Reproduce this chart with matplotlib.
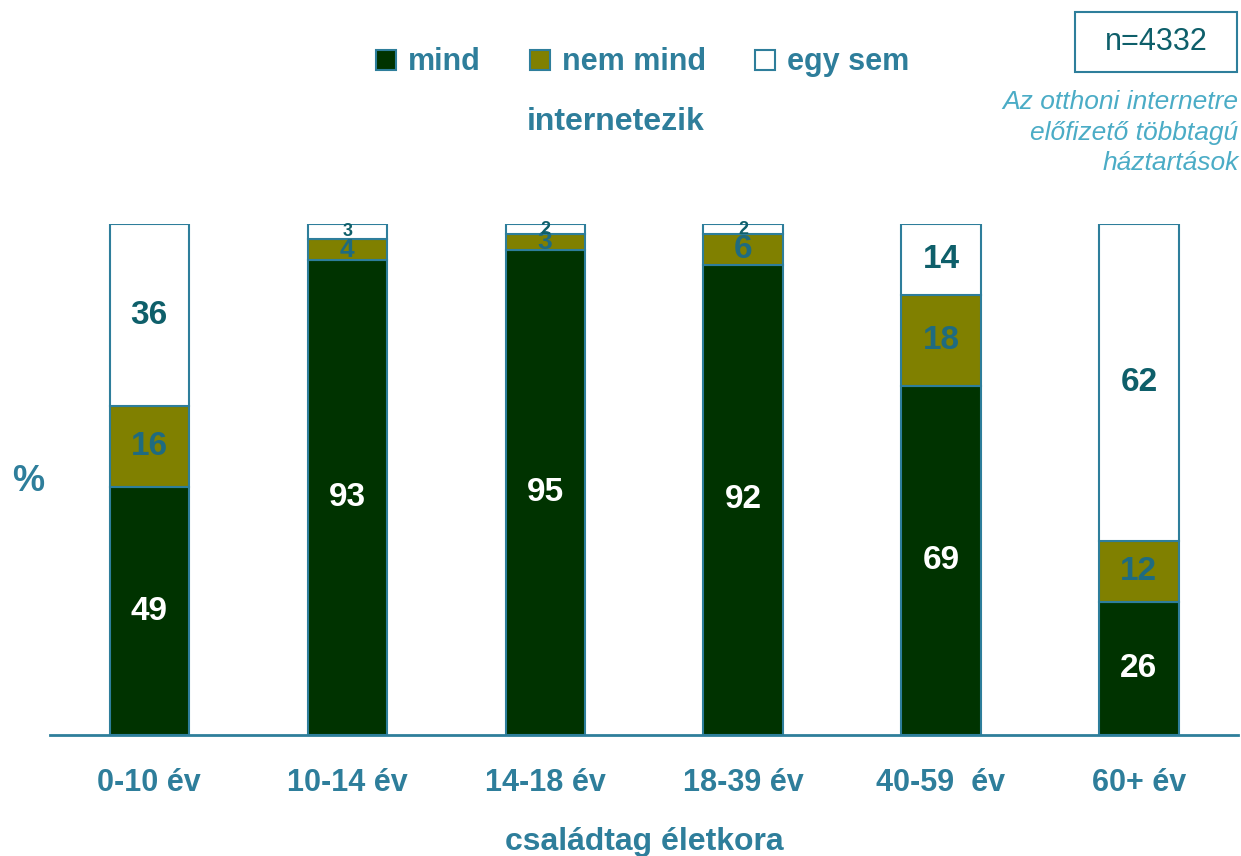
import matplotlib.pyplot as plt
import numpy as np
from matplotlib.patches import Patch, Rectangle

plt.rcParams['font.family'] = ['Liberation Sans', 'DejaVu Sans']

categories = ['0-10 év', '10-14 év', '14-18 év', '18-39 év', '40-59  év', '60+ év']
mind = [49, 93, 95, 92, 69, 26]
nem_mind = [16, 4, 3, 6, 18, 12]
egy_sem = [36, 3, 2, 2, 14, 62]
series_names = ['mind', 'nem mind', 'egy sem']

teal = '#2E7E9B'
dark_teal = '#0E5F6A'
colors = ['#003300', '#808000', 'white']
label_colors = ['white', '#1F6B80', dark_teal]

fig = plt.figure(figsize=(12.41, 8.56), dpi=100)
ax = fig.add_axes([0.0405, 0.1414, 0.957, 0.5969])

series = np.array([mind, nem_mind, egy_sem], dtype=float)
totals = series.sum(axis=0)
shares = series / totals * 100
x = np.arange(len(categories))
bottom = np.zeros(len(categories))
for i in range(3):
    ax.bar(x, shares[i], 0.4, bottom=bottom, color=colors[i],
           edgecolor=teal, linewidth=1.5, zorder=2)
    for j, v in enumerate(series[i]):
        if v <= 3 and i == 2:
            fs = 13
        elif v <= 4:
            fs = 19
        else:
            fs = 24
        ax.text(x[j], bottom[j] + shares[i][j] / 2, f'{int(v)}', ha='center', va='center',
                fontsize=fs, fontweight='bold', color=label_colors[i], zorder=3)
    bottom += shares[i]

ax.set_xlim(-0.5, 5.5)
ax.set_ylim(0, 100)
for s in ['top', 'right', 'left']:
    ax.spines[s].set_visible(False)
ax.spines['bottom'].set_color(teal)
ax.spines['bottom'].set_linewidth(2)
ax.set_yticks([])
ax.set_xticks(x)
ax.set_xticklabels(categories, fontsize=22, fontweight='bold', color=teal)
ax.tick_params(axis='x', length=0, pad=24)
ax.set_xlabel('családtag életkora', fontsize=23, fontweight='bold', color=teal, labelpad=21)

fig.text(0.023, 0.438, '%', fontsize=26, fontweight='bold', color=teal, ha='center', va='center')

handles = [Patch(facecolor=c, edgecolor=teal, linewidth=1.5) for c in colors]
leg = fig.legend(handles, series_names, loc='center', bbox_to_anchor=(0.518, 0.927), ncol=3,
                 frameon=False, fontsize=22, handlelength=0.65, handleheight=0.65,
                 handletextpad=0.4, columnspacing=1.6)
for t in leg.get_texts():
    t.set_color(teal)
    t.set_fontweight('bold')
fig.text(0.496, 0.857, 'internetezik', fontsize=23, fontweight='bold', color=teal,
         ha='center', va='center')

fig.patches.append(Rectangle((1075 / 1241, 1 - 72 / 856), 162 / 1241, 60 / 856,
                             transform=fig.transFigure, facecolor='white', edgecolor=teal,
                             linewidth=1.5))
fig.text(1156 / 1241, 1 - 42 / 856, 'n=4332', fontsize=22, color=dark_teal,
         ha='center', va='center')
fig.text(0.998, 0.845, 'Az otthoni internetre\nelőfizető többtagú\nháztartások', fontsize=19,
         style='italic', color='#4BACC6', ha='right', va='center', linespacing=1.35)

fig.savefig('out.png', dpi=100)
